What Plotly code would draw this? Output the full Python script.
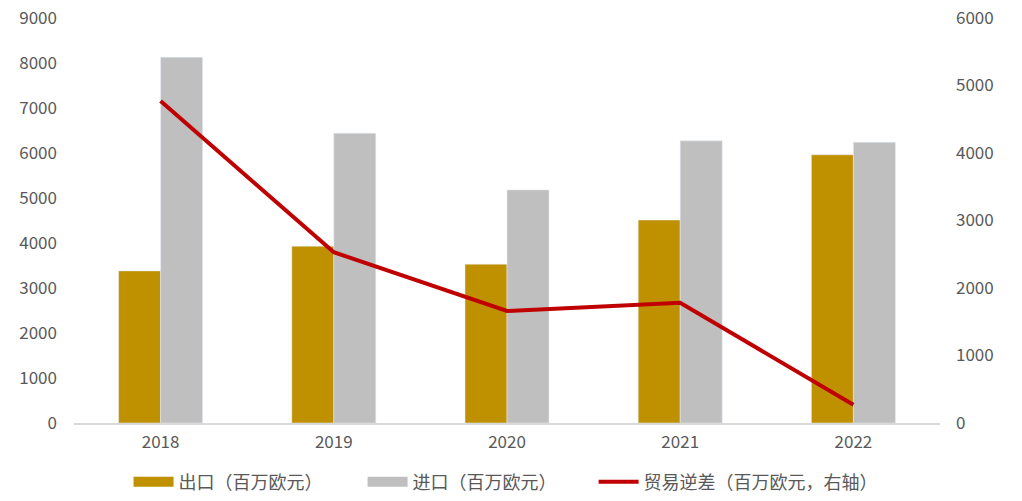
import plotly.graph_objects as go

years = ["2018", "2019", "2020", "2021", "2022"]
exports = [3380, 3930, 3530, 4510, 5960]
imports = [8130, 6440, 5180, 6270, 6240]
deficit = [4770, 2530, 1660, 1780, 270]

left_ticks = [0, 1000, 2000, 3000, 4000, 5000, 6000, 7000, 8000, 9000]
right_ticks = [0, 1000, 2000, 3000, 4000, 5000, 6000]

name_exp = "出口（百万欧元）"
name_imp = "进口（百万欧元）"
name_def = "贸易逆差（百万欧元，右轴）"

GOLD = "#BF9000"
GREY = "#BFBFBF"
RED = "#C00000"
FONT = "Noto Sans CJK SC"
TXT = "#595959"

fig = go.Figure()
fig.add_trace(go.Bar(x=years, y=exports, name=name_exp, marker_color=GOLD, showlegend=False))
fig.add_trace(go.Bar(x=years, y=imports, name=name_imp, marker_color=GREY, showlegend=False))
fig.add_trace(go.Scatter(x=years, y=deficit, name=name_def, mode="lines",
                         line=dict(color=RED, width=4), yaxis="y2", showlegend=False))
# legend entries
fig.add_trace(go.Scatter(x=[None], y=[None], name=name_exp, mode="lines",
                         line=dict(color=GOLD, width=10), legend="legend"))
fig.add_trace(go.Scatter(x=[None], y=[None], name=name_imp, mode="lines",
                         line=dict(color=GREY, width=10), legend="legend"))
fig.add_trace(go.Scatter(x=[None], y=[None], name=name_def, mode="lines",
                         line=dict(color=RED, width=4), yaxis="y2", legend="legend2"))

fig.update_layout(
    width=1022, height=501,
    margin=dict(l=74, r=82, t=18, b=78, autoexpand=False),
    paper_bgcolor="white", plot_bgcolor="white",
    font=dict(family=FONT, size=17, color=TXT),
    barmode="group", bargap=0.515, bargroupgap=0,
    xaxis=dict(type="category", range=[-0.5, 4.5], showline=True, linecolor="#D9D9D9",
               linewidth=1.5, ticks="", showgrid=False, tickfont=dict(size=17, color=TXT),
               ticklabelstandoff=3, automargin=False),
    yaxis=dict(range=[0, 9000], tickvals=left_ticks, showgrid=False, zeroline=False,
               showline=False, ticks="", tickfont=dict(size=17, color=TXT),
               ticklabelstandoff=16, automargin=False, ticklabeloverflow="allow"),
    yaxis2=dict(range=[0, 6000], tickvals=right_ticks, overlaying="y", side="right",
                showgrid=False, zeroline=False, showline=False, ticks="",
                tickfont=dict(size=17, color=TXT), ticklabelstandoff=15, automargin=False,
                ticklabeloverflow="allow"),
    legend=dict(orientation="h", x=0.063, xanchor="left", y=-0.1, yanchor="top",
                font=dict(size=18, color=TXT), itemwidth=40, tracegroupgap=0,
                entrywidth=179, entrywidthmode="pixels"),
    legend2=dict(orientation="h", x=0.6, xanchor="left", y=-0.1, yanchor="top",
                 font=dict(size=18, color=TXT), itemwidth=40),
    showlegend=True,
)

fig.write_html(
    "out.html",
    config={"displayModeBar": False},
    post_script="document.body.style.margin='0';document.body.style.overflow='hidden';",
)
